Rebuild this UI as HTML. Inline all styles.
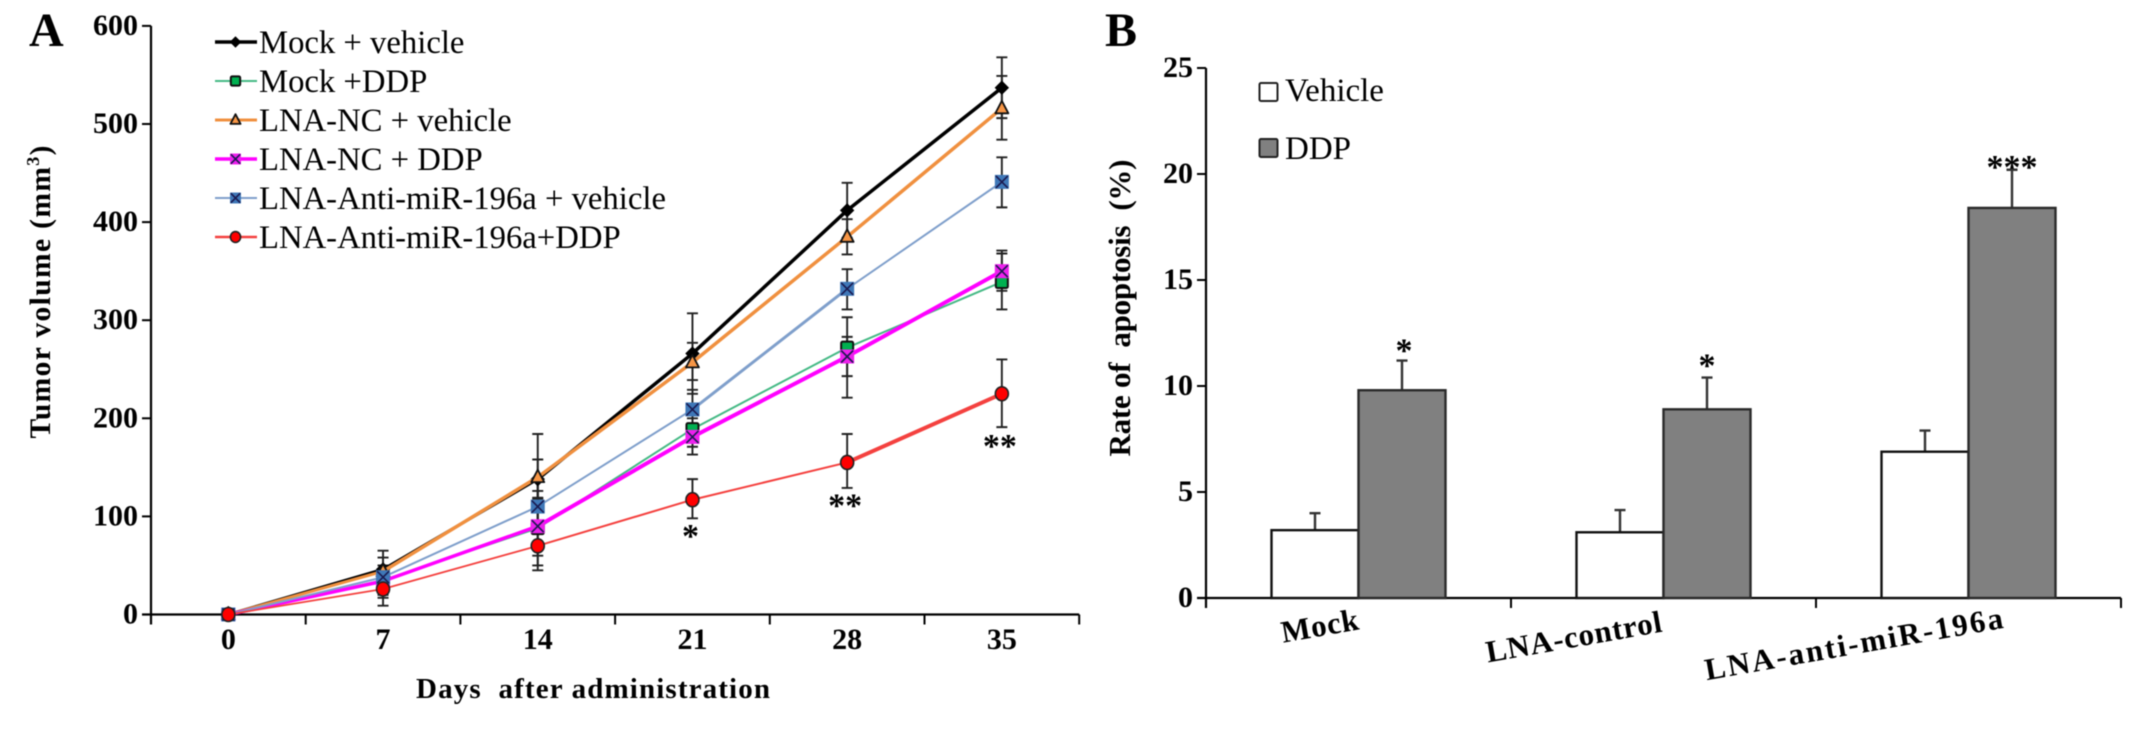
<!DOCTYPE html>
<html lang="en">
<head>
<meta charset="utf-8">
<title>Tumor volume and apoptosis charts</title>
<style>
html,body{margin:0;padding:0;background:#fff;}
body{width:2150px;height:730px;overflow:hidden;}
svg{display:block;filter:blur(0.45px);}
text{font-family:"Liberation Serif",serif;fill:#000;}
.b{font-weight:bold;}
</style>
</head>
<body>
<svg id="fig" xmlns="http://www.w3.org/2000/svg" width="2150" height="730" viewBox="0 0 2150 730">
  <rect width="2150" height="730" fill="#fff"/>
  <text class="b" x="29" y="46" font-size="48">A</text>
  <text class="b" x="1105" y="46" font-size="48">B</text>
  <text class="b" transform="translate(50,292) rotate(-90)" text-anchor="middle" font-size="29.5" textLength="293" lengthAdjust="spacing">Tumor volume (mm<tspan dy="-11" font-size="18">3</tspan><tspan dy="11">)</tspan></text>
  <text class="b" x="593" y="698" text-anchor="middle" font-size="29" textLength="354" lengthAdjust="spacing">Days&#160;&#160;after administration</text>
  <text class="b" transform="translate(1130,308) rotate(-90)" text-anchor="middle" font-size="31" textLength="297" lengthAdjust="spacing">Rate of&#160;&#160;apoptosis&#160;&#160;(%)</text>
  <g id="chartA"></g>
  <g id="chartB"></g>
</svg>
<script>
// ---- Panel A data ----
const days = [0, 7, 14, 21, 28, 35];
const yTicksA = [0, 100, 200, 300, 400, 500, 600];

const seriesNames = ['Mock + vehicle', 'Mock +DDP', 'LNA-NC + vehicle', 'LNA-NC + DDP', 'LNA-Anti-miR-196a + vehicle', 'LNA-Anti-miR-196a+DDP'];

const mockVehicle = [0, 46, 138, 266, 412, 537];
const mockVehicleHi = [0, 65, 158, 307, 440, 568];
const mockVehicleLo = [0, 29, 118, 225, 384, 506];

const mockDdp = [0, 35, 88, 189, 272, 339];
const mockDdpHi = [0, 46, 126, 210, 283, 368];
const mockDdpLo = [0, 20, 50, 171, 243, 311];

const ncVehicle = [0, 44, 140, 257, 385, 516];
const ncVehicleHi = [0, 58, 184, 277, 403, 549];
const ncVehicleLo = [0, 31, 95, 239, 367, 484];

const ncDdp = [0, 34, 90, 181, 263, 350];
const ncDdpHi = [0, 45, 119, 200, 303, 371];
const ncDdpLo = [0, 17, 60, 163, 221, 330];

const antiVehicle = [0, 38, 110, 209, 332, 441];
const antiVehicleHi = [0, 50, 135, 229, 352, 466];
const antiVehicleLo = [0, 28, 88, 190, 311, 415];

const antiDdp = [0, 26, 70, 117, 155, 225];
const antiDdpHi = [0, 40, 95, 138, 184, 260];
const antiDdpLo = [0, 9, 45, 98, 129, 191];

const sigDays = [21, 28, 35];
const sigLabels = ['*', '**', '**'];
const sigValues = [82, 113, 174];

// ---- Panel B data ----
const groups = ['Mock', 'LNA-control', 'LNA-anti-miR-196a'];
const vehicleRates = [3.2, 3.1, 6.9];
const vehicleErrTop = [4.0, 4.15, 7.9];
const ddpRates = [9.8, 8.9, 18.4];
const ddpErrTop = [11.2, 10.4, 20.2];
const ddpSig = ['*', '*', '***'];
const yTicksB = [0, 5, 10, 15, 20, 25];

// ---- Styles (separate from data) ----
const styleA = [
  {key:'mock-vehicle', color:'#000000', seg:[3,3,3.5,3.5,3.5], leg:3.5, marker:'diamond', fill:'#000'},
  {key:'mock-ddp', color:'#45b985', seg:[2,2,2,2,2], leg:2, marker:'square', fill:'#00b050'},
  {key:'nc-vehicle', color:'#f0903f', seg:[3,3.5,3.5,3.5,3.5], leg:3, marker:'triangle', fill:'#f79646'},
  {key:'nc-ddp', color:'#ff00ff', seg:[3.5,3.5,4,4,4], leg:3.5, marker:'xsquare', fill:'#ee20ee'},
  {key:'anti-vehicle', color:'#7f9fcb', seg:[2,2,2,3,2], leg:2, marker:'xsquare', fill:'#3f78b8'},
  {key:'anti-ddp', color:'#f4413f', seg:[1.8,1.8,2,2,4], leg:2.5, marker:'circle', fill:'#ff0000'}
];
const valuesA = [mockVehicle, mockDdp, ncVehicle, ncDdp, antiVehicle, antiDdp];
const hiA = [mockVehicleHi, mockDdpHi, ncVehicleHi, ncDdpHi, antiVehicleHi, antiDdpHi];
const loA = [mockVehicleLo, mockDdpLo, ncVehicleLo, ncDdpLo, antiVehicleLo, antiDdpLo];

const NS = 'http://www.w3.org/2000/svg';
function mk(parent, tag, attrs, text) {
  const el = document.createElementNS(NS, tag);
  for (const k in attrs) el.setAttribute(k, attrs[k]);
  if (text !== undefined) el.textContent = text;
  parent.appendChild(el);
  return el;
}

// ---- Axis functions ----
const axA = {left:151, base:614.5, band:154.7, perUnit:0.981};
function xA(day) { return axA.left + axA.band * (days.indexOf(day) + 0.5); }
function yA(v) { return axA.base - v * axA.perUnit; }
const axB = {left:1206, base:598, band:305, perUnit:21.2, barW:87};
function xB(i) { return axB.left + axB.band * (i + 0.5); }
function yB(v) { return axB.base - v * axB.perUnit; }

function drawMarker(parent, kind, cx, cy, fill, name, k) {
  let el;
  if (kind === 'diamond') {
    el = mk(parent, 'polygon', {points:[cx,cy-6.5*k,cx+6.5*k,cy,cx,cy+6.5*k,cx-6.5*k,cy].join(','), fill:fill, stroke:'#000', 'stroke-width':1});
  } else if (kind === 'square') {
    el = mk(parent, 'rect', {x:cx-6*k, y:cy-6*k, width:12*k, height:12*k, rx:1.5, fill:fill, stroke:'#111', 'stroke-width':2});
  } else if (kind === 'triangle') {
    el = mk(parent, 'polygon', {points:[cx,cy-7.5*k,cx+6.5*k,cy+5*k,cx-6.5*k,cy+5*k].join(','), fill:fill, stroke:'#111', 'stroke-width':1.8, 'stroke-linejoin':'round'});
  } else if (kind === 'circle') {
    el = mk(parent, 'ellipse', {cx:cx, cy:cy, rx:6.5*k, ry:7*k, fill:fill, stroke:'#222', 'stroke-width':1.6});
  } else {
    el = mk(parent, 'g', {});
    mk(el, 'rect', {x:cx-7*k, y:cy-7*k, width:14*k, height:14*k, fill:fill});
    mk(el, 'path', {d:'M'+(cx-6*k)+' '+(cy-6*k)+'L'+(cx+6*k)+' '+(cy+6*k)+'M'+(cx+6*k)+' '+(cy-6*k)+'L'+(cx-6*k)+' '+(cy+6*k), stroke:'#1a1a50', 'stroke-width':1.6, fill:'none'});
  }
  
  
  return el;
}

// ---- Panel A ----
const A = document.getElementById('chartA');
const yAxA = mk(A, 'path', {d:'M'+axA.left+' '+yA(600)+'V'+(axA.base+10), stroke:'#000', 'stroke-width':2.2, fill:'none'});


const xEnd = axA.left + axA.band * days.length;
const xAxA = mk(A, 'path', {d:'M'+(axA.left-9)+' '+axA.base+'H'+xEnd, stroke:'#000', 'stroke-width':2.2, fill:'none'});



yTicksA.forEach(function (t) {
  if (t > 0) {
    const tk = mk(A, 'path', {d:'M'+(axA.left-9)+' '+yA(t)+'H'+axA.left, stroke:'#000', 'stroke-width':2, fill:'none'});
    
    
  }
  const lb = mk(A, 'text', {x:axA.left-13, y:yA(t)+9, 'text-anchor':'end', 'font-size':30, 'class':'b'}, String(t));
  
  
});
days.forEach(function (d, i) {
  const tx = axA.left + axA.band * (i + 1);
  const tk = mk(A, 'path', {d:'M'+tx+' '+axA.base+'V'+(axA.base+10), stroke:'#000', 'stroke-width':2, fill:'none'});
  
  
  const lb = mk(A, 'text', {x:xA(d), y:649, 'text-anchor':'middle', 'font-size':30, 'class':'b'}, String(d));
  
  
});

// error bars first, so markers sit on top
valuesA.forEach(function (vals, s) {
  const g = mk(A, 'g', {});
  
  
  days.forEach(function (d, i) {
    if (hiA[s][i] === loA[s][i]) return;
    const x = xA(d), y1 = yA(hiA[s][i]), y2 = yA(loA[s][i]);
    const eb = mk(g, 'path', {d:'M'+x+' '+y1+'V'+y2+'M'+(x-5.5)+' '+y1+'H'+(x+5.5)+'M'+(x-5.5)+' '+y2+'H'+(x+5.5), stroke:'#222', 'stroke-width':1.9, fill:'none'});
    
    
  });
});
valuesA.forEach(function (vals, s) {
  const st = styleA[s];
  const g = mk(A, 'g', {});
  
  
  for (let i = 0; i < days.length - 1; i++) {
    const ln = mk(g, 'line', {x1:xA(days[i]), y1:yA(vals[i]), x2:xA(days[i+1]), y2:yA(vals[i+1]), stroke:st.color, 'stroke-width':st.seg[i], 'stroke-linecap':'round'});
    
    
  }
  days.forEach(function (d, i) {
    drawMarker(g, st.marker, xA(d), yA(vals[i]), st.fill, 'point-' + st.key + '-day-' + d, 1);
  });
});
sigDays.forEach(function (d, i) {
  const st = mk(A, 'text', {x:xA(d) - 2, y:yA(sigValues[i]) + 13, 'text-anchor':'middle', 'font-size':34, 'class':'b'}, sigLabels[i]);
  
  
});

// legend A
const legA = mk(A, 'g', {});


seriesNames.forEach(function (nm, s) {
  const rowY = 42 + s * 39;
  const st = styleA[s];
  const row = mk(legA, 'g', {});
  
  
  const ln = mk(row, 'line', {x1:215, y1:rowY, x2:257, y2:rowY, stroke:st.color, 'stroke-width':st.leg});
  
  
  drawMarker(row, st.marker, 235.5, rowY, st.fill, 'legend-marker-' + st.key, 0.78);
  const tx = mk(row, 'text', {x:259, y:rowY + 11, 'font-size':32.7}, nm);
  
  
});

// ---- Panel B ----
const B = document.getElementById('chartB');
const yAxB = mk(B, 'path', {d:'M'+axB.left+' '+yB(25)+'V'+(axB.base+10), stroke:'#000', 'stroke-width':2.2, fill:'none'});


const xAxB = mk(B, 'path', {d:'M'+(axB.left-9)+' '+axB.base+'H'+(axB.left + axB.band * groups.length), stroke:'#000', 'stroke-width':2.2, fill:'none'});



yTicksB.forEach(function (t) {
  if (t > 0) {
    const tk = mk(B, 'path', {d:'M'+(axB.left-9)+' '+yB(t)+'H'+axB.left, stroke:'#000', 'stroke-width':2, fill:'none'});
    
    
  }
  const lb = mk(B, 'text', {x:axB.left-13, y:yB(t)+9, 'text-anchor':'end', 'font-size':30, 'class':'b'}, String(t));
  
  
});

function errBar(parent, cx, fromV, toV, name) {
  const e = mk(parent, 'path', {d:'M'+cx+' '+yB(fromV)+'V'+yB(toV)+'M'+(cx-5.5)+' '+yB(toV)+'H'+(cx+5.5), stroke:'#333', 'stroke-width':2.4, fill:'none'});
  
  
}
const labelDy = [38, 49, 56];
const labelDx = [-37, -88, -113];
const labelLen = [78, 178, 302];
const sigDy = [4, 2, 11];
const sigDx = [2, 0, 0];
groups.forEach(function (gr, i) {
  const c = xB(i);
  const k = gr.toLowerCase();
  errBar(B, c - axB.barW / 2, vehicleRates[i], vehicleErrTop[i], 'error-bar-vehicle-' + k);
  errBar(B, c + axB.barW / 2, ddpRates[i], ddpErrTop[i], 'error-bar-ddp-' + k);
  const b1 = mk(B, 'rect', {x:c - axB.barW, y:yB(vehicleRates[i]), width:axB.barW, height:axB.base - yB(vehicleRates[i]), fill:'#fff', stroke:'#111', 'stroke-width':2.4});
  
  
  const b2 = mk(B, 'rect', {x:c, y:yB(ddpRates[i]), width:axB.barW, height:axB.base - yB(ddpRates[i]), fill:'#808080', stroke:'#2a2a2a', 'stroke-width':2.4});
  
  
  const sg = mk(B, 'text', {x:c + axB.barW / 2 + sigDx[i], y:yB(ddpErrTop[i]) - 3 + sigDy[i], 'text-anchor':'middle', 'font-size':34, 'class':'b'}, ddpSig[i]);
  
  
  const tk = mk(B, 'path', {d:'M'+(axB.left + axB.band * (i + 1))+' '+axB.base+'V'+(axB.base+10), stroke:'#000', 'stroke-width':2, fill:'none'});
  
  
  const lb = mk(B, 'text', {transform:'translate(' + (c + labelDx[i]) + ',' + (axB.base + labelDy[i]) + ') rotate(-10)', 'text-anchor':'middle', 'font-size':31, 'class':'b', textLength:labelLen[i], lengthAdjust:'spacing'}, gr);
  
  
});

// legend B
const legB = mk(B, 'g', {});


const s1 = mk(legB, 'rect', {x:1259.5, y:83, width:18, height:18, rx:1.5, fill:'#fff', stroke:'#222', 'stroke-width':2});


const t1 = mk(legB, 'text', {x:1285, y:101, 'font-size':33}, 'Vehicle');


const s2 = mk(legB, 'rect', {x:1259.5, y:139, width:18, height:18, rx:1.5, fill:'#808080', stroke:'#222', 'stroke-width':2});


const t2 = mk(legB, 'text', {x:1285, y:159, 'font-size':33}, 'DDP');


</script>
</body>
</html>
